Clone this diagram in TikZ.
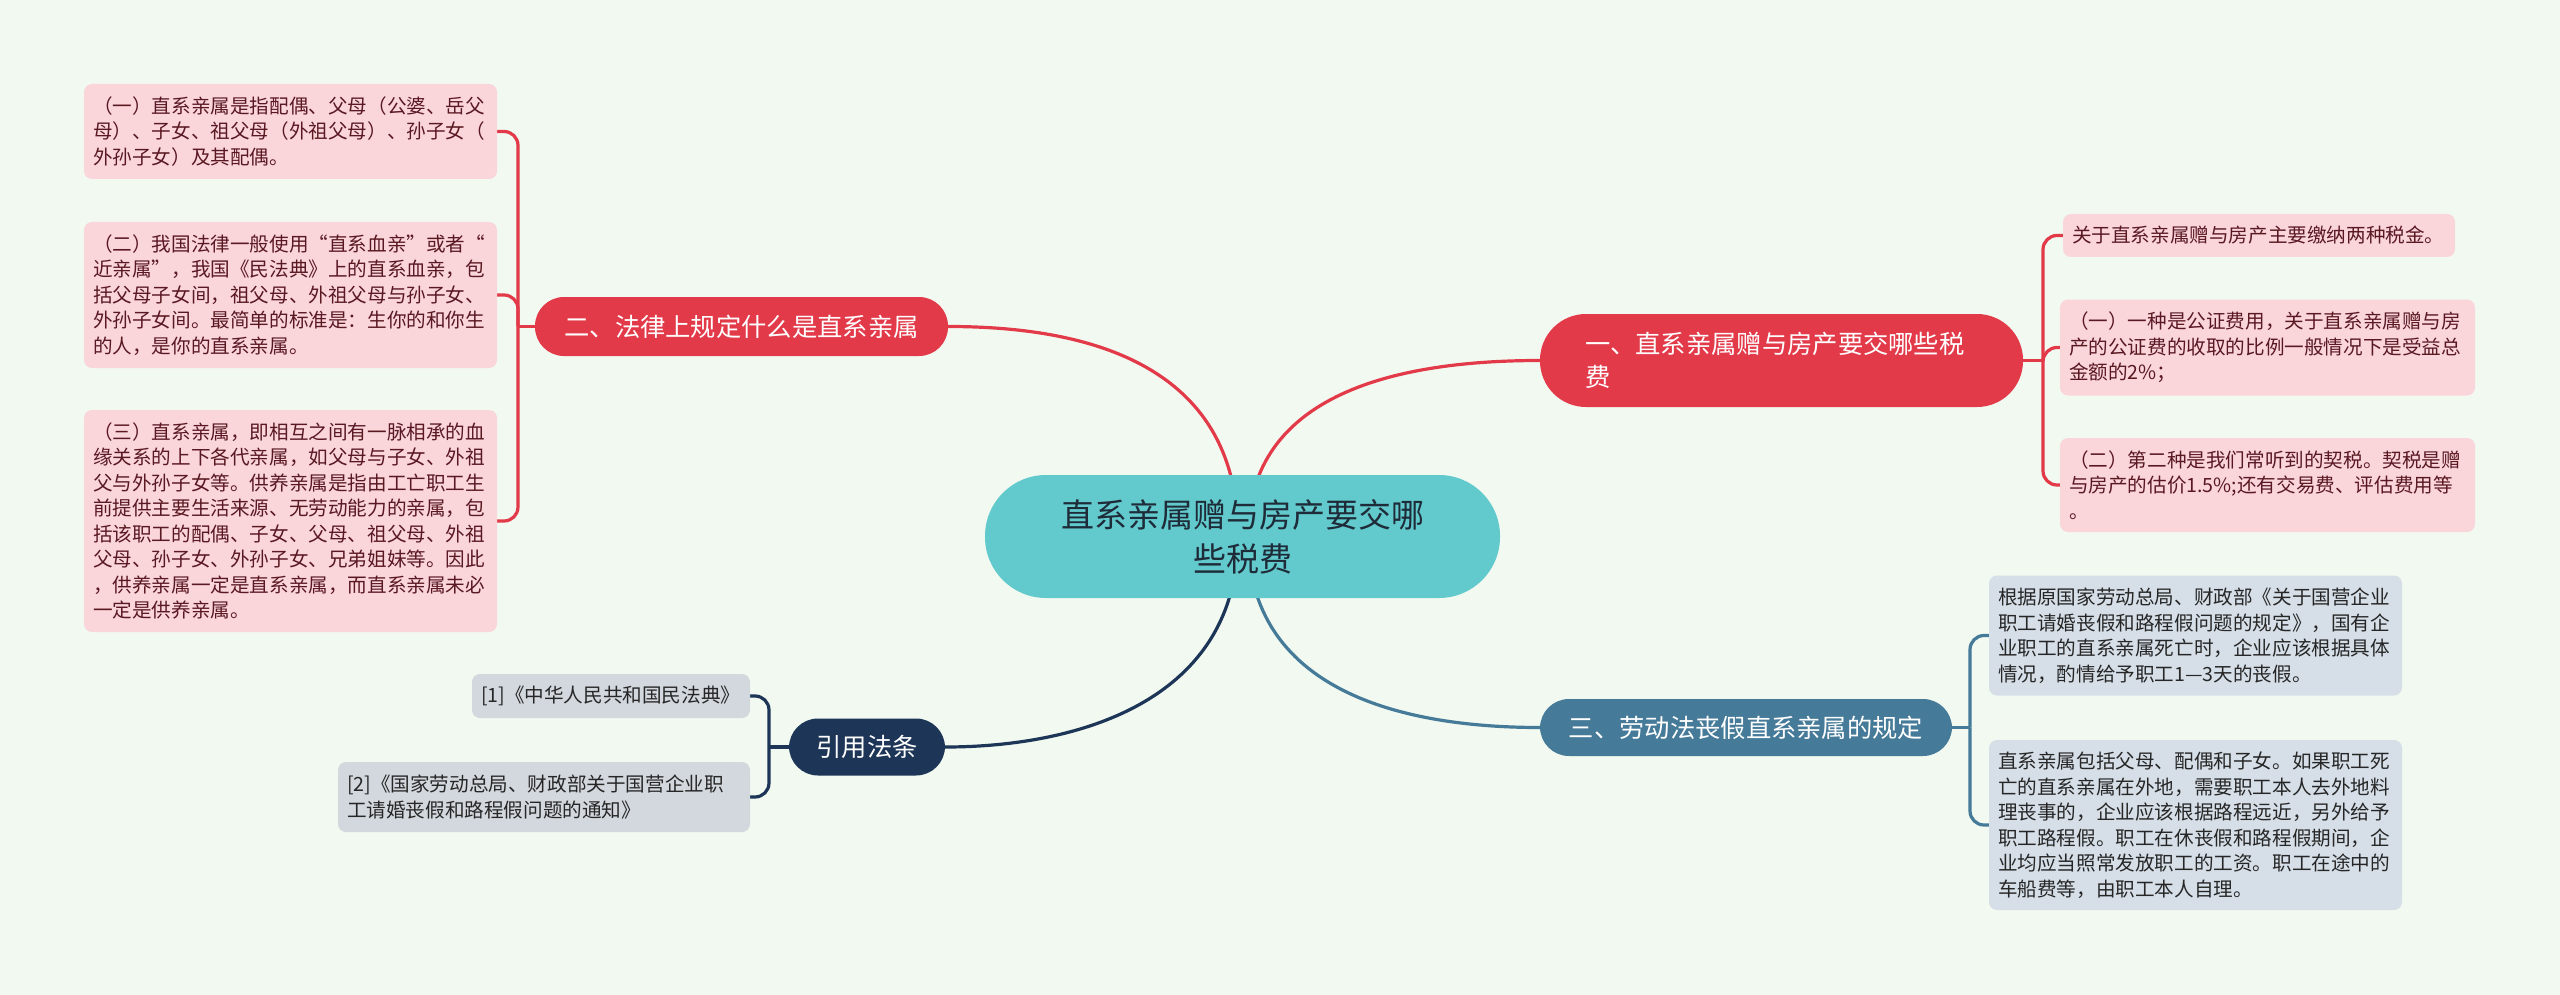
\documentclass[tikz,border=0pt]{standalone}
\usepackage{fontspec}
\setmainfont{Noto Sans CJK SC}
\usetikzlibrary{backgrounds}
\definecolor{bgc}{HTML}{F1F9F0}
\definecolor{pinkleaf}{HTML}{FAD6DB}
\definecolor{pinktext}{HTML}{5A1822}
\definecolor{redb}{HTML}{E33A4A}
\definecolor{tealc}{HTML}{62C9CC}
\definecolor{centertext}{HTML}{1E2B38}
\definecolor{steelb}{HTML}{467A99}
\definecolor{navyb}{HTML}{1D3557}
\definecolor{blueleaf}{HTML}{D6DFE8}
\definecolor{grayleaf}{HTML}{D3D8DE}
\definecolor{darktext}{HTML}{262626}
\tikzset{
  leafbox/.style={rounded corners=8pt, inner xsep=9pt, inner ysep=0pt, align=left,
    font=\fontsize{19.6pt}{25.5pt}\selectfont, anchor=center},
  pinkbox/.style={leafbox, fill=pinkleaf, text=pinktext},
  bluebox/.style={leafbox, fill=blueleaf, text=darktext},
  graybox/.style={leafbox, fill=grayleaf, text=darktext},
  branchbox/.style={rounded corners=29pt, text=white, inner sep=0pt,
    font=\fontsize{25.3pt}{33pt}\selectfont, anchor=center},
  conn/.style={line width=3.2pt},
  brk/.style={line width=3.2pt, rounded corners=14pt},
}
\begin{document}
\begin{tikzpicture}[x=1pt,y=-1pt]
\useasboundingbox (0,0) rectangle (2560,995);
% center
\node[fill=tealc, rounded corners=61pt, minimum width=515pt, minimum height=123pt, inner sep=0pt,
  align=center, text=centertext, font=\fontsize{33pt}{44pt}\selectfont] (c) at (1242.5,536.5)
  {直系亲属赠与房产要交哪\\些税费};
% branches
\node[branchbox, fill=redb, minimum width=413pt, minimum height=59pt] (b2) at (741.5,326.5)
  {二、法律上规定什么是直系亲属};
\node[branchbox, fill=redb, rounded corners=46pt, minimum width=483pt, minimum height=93pt,
  text width=393pt, align=left] (b1) at (1781.5,360.5)
  {一、直系亲属赠与房产要交哪些税\\费};
\node[branchbox, fill=steelb, minimum width=412pt, minimum height=57pt] (b3) at (1746,727.5)
  {三、劳动法丧假直系亲属的规定};
\node[branchbox, fill=navyb, minimum width=156pt, minimum height=57pt] (b4) at (867,747)
  {引用法条};
% left pink leaves
\node[pinkbox, text width=395pt, minimum height=95pt] (l1) at (290.5,131.5)
  {（一）直系亲属是指配偶、父母（公婆、岳父\\母）、子女、祖父母（外祖父母）、孙子女（\\外孙子女）及其配偶。};
\node[pinkbox, text width=395pt, minimum height=146pt] (l2) at (290.5,295)
  {（二）我国法律一般使用“直系血亲”或者“\\近亲属”，我国《民法典》上的直系血亲，包\\括父母子女间，祖父母、外祖父母与孙子女、\\外孙子女间。最简单的标准是：生你的和你生\\的人，是你的直系亲属。};
\node[pinkbox, text width=395pt, minimum height=222pt] (l3) at (290.5,521)
  {（三）直系亲属，即相互之间有一脉相承的血\\缘关系的上下各代亲属，如父母与子女、外祖\\父与外孙子女等。供养亲属是指由工亡职工生\\前提供主要生活来源、无劳动能力的亲属，包\\括该职工的配偶、子女、父母、祖父母、外祖\\父母、孙子女、外孙子女、兄弟姐妹等。因此\\，供养亲属一定是直系亲属，而直系亲属未必\\一定是供养亲属。};
% right pink leaves
\node[pinkbox, text width=374pt, minimum height=43pt] (r1) at (2259,235.5)
  {关于直系亲属赠与房产主要缴纳两种税金。};
\node[pinkbox, text width=397pt, minimum height=96pt] (r2) at (2267.5,347.5)
  {（一）一种是公证费用，关于直系亲属赠与房\\产的公证费的收取的比例一般情况下是受益总\\金额的2\%；};
\node[pinkbox, text width=397pt, minimum height=94pt] (r3) at (2267.5,485)
  {（二）第二种是我们常听到的契税。契税是赠\\与房产的估价1.5\%;还有交易费、评估费用等\\。};
% blue leaves
\node[bluebox, text width=395pt, minimum height=120pt] (r4) at (2195.5,635.5)
  {根据原国家劳动总局、财政部《关于国营企业\\职工请婚丧假和路程假问题的规定》，国有企\\业职工的直系亲属死亡时，企业应该根据具体\\情况，酌情给予职工1—3天的丧假。};
\node[bluebox, text width=395pt, minimum height=170pt] (r5) at (2195.5,825)
  {直系亲属包括父母、配偶和子女。如果职工死\\亡的直系亲属在外地，需要职工本人去外地料\\理丧事的，企业应该根据路程远近，另外给予\\职工路程假。职工在休丧假和路程假期间，企\\业均应当照常发放职工的工资。职工在途中的\\车船费等，由职工本人自理。};
% reference leaves
\node[graybox, text width=260pt, minimum height=44pt] (f1) at (611,696)
  {[1]《中华人民共和国民法典》};
\node[graybox, text width=394pt, minimum height=70pt] (f2) at (544,797)
  {[2]《国家劳动总局、财政部关于国营企业职\\工请婚丧假和路程假问题的通知》};
% joints
\coordinate (j2) at (518,326.5);
\coordinate (j1) at (2043,360.5);
\coordinate (j3) at (1970,727.5);
\coordinate (j4) at (769,747);
\begin{scope}[on background layer]
\fill[bgc] (0,0) rectangle (2560,995);
% center connectors
\draw[conn, redb] (1238,536) .. controls (1238,360) and (1080,326.5) .. (b2.east);
\draw[conn, redb] (1248,536) .. controls (1248,392) and (1400,360.5) .. (b1.west);
\draw[conn, navyb] (1238,536) .. controls (1238,700) and (1080,747) .. (b4.east);
\draw[conn, steelb] (1248,536) .. controls (1248,690) and (1400,727.5) .. (b3.west);
% left brackets
\draw[conn, redb] (b2.west) -- (j2);
\draw[brk, redb] (j2) |- (l1.east);
\draw[brk, redb] (j2) |- (l2.east);
\draw[brk, redb] (j2) |- (l3.east);
% right brackets
\draw[conn, redb] (b1.east) -- (j1);
\draw[brk, redb] (j1) |- (r1.west);
\draw[brk, redb] (j1) |- (r2.west);
\draw[brk, redb] (j1) |- (r3.west);
\draw[conn, steelb] (b3.east) -- (j3);
\draw[brk, steelb] (j3) |- (r4.west);
\draw[brk, steelb] (j3) |- (r5.west);
\draw[conn, navyb] (b4.west) -- (j4);
\draw[brk, navyb] (j4) |- (f1.east);
\draw[brk, navyb] (j4) |- (f2.east);
\end{scope}
\end{tikzpicture}
\end{document}
